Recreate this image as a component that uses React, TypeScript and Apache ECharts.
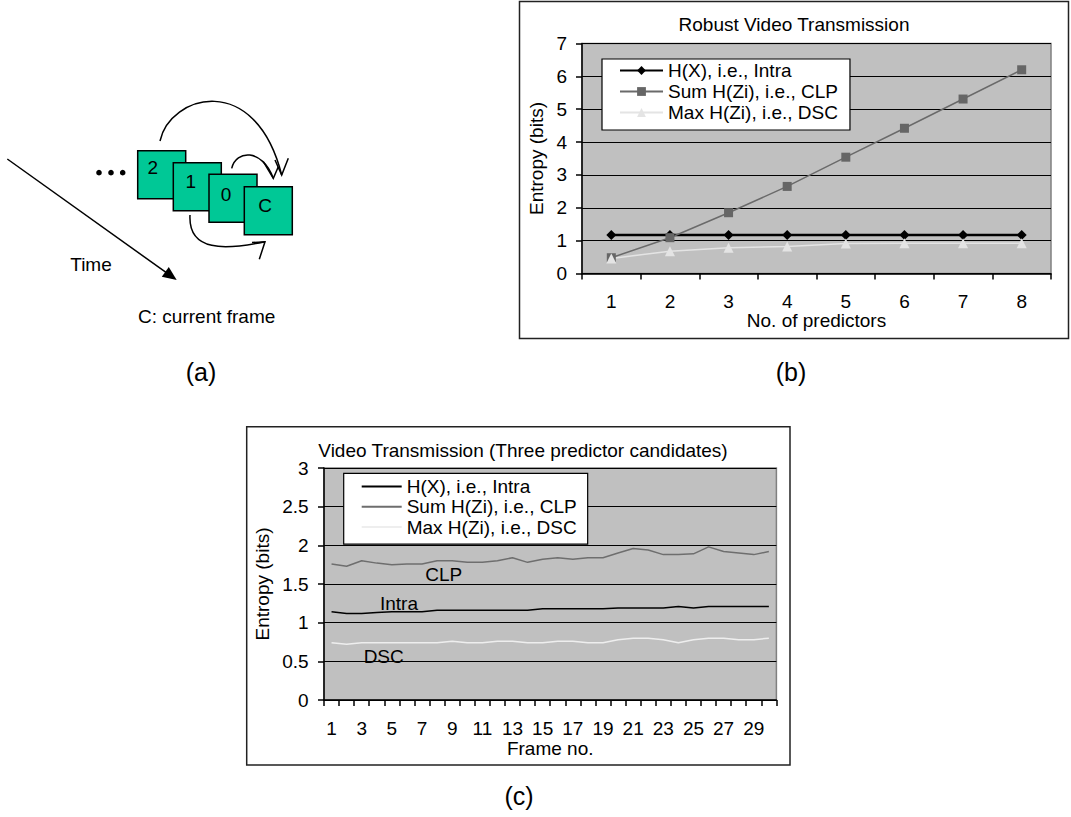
import React, { useEffect, useRef } from "react";
import * as echarts from "echarts";

const FONT = "'Liberation Sans', Arial, Helvetica, sans-serif";

// ---------- data: panel (b) ----------
const predictorsB = ["1", "2", "3", "4", "5", "6", "7", "8"];
const intraB = [1.17, 1.17, 1.17, 1.17, 1.17, 1.17, 1.17, 1.17];
const clpB = [0.48, 1.09, 1.85, 2.65, 3.54, 4.42, 5.31, 6.2];
const dscB = [0.46, 0.68, 0.78, 0.82, 0.91, 0.92, 0.92, 0.92];

// ---------- data: panel (c) ----------
const framesC = [
  "1", "2", "3", "4", "5", "6", "7", "8", "9", "10",
  "11", "12", "13", "14", "15", "16", "17", "18", "19", "20",
  "21", "22", "23", "24", "25", "26", "27", "28", "29", "30",
];
const intraC = [
  1.14, 1.12, 1.12, 1.13, 1.14, 1.14, 1.14, 1.16, 1.16, 1.16,
  1.16, 1.16, 1.16, 1.16, 1.18, 1.18, 1.18, 1.18, 1.18, 1.19,
  1.19, 1.19, 1.19, 1.21, 1.19, 1.21, 1.21, 1.21, 1.21, 1.21,
];
const clpC = [
  1.76, 1.73, 1.8, 1.77, 1.75, 1.76, 1.76, 1.8, 1.8, 1.78,
  1.78, 1.8, 1.84, 1.78, 1.82, 1.84, 1.82, 1.84, 1.84, 1.9,
  1.96, 1.94, 1.88, 1.88, 1.89, 1.98, 1.92, 1.9, 1.88, 1.92,
];
const dscC = [
  0.74, 0.72, 0.74, 0.74, 0.74, 0.74, 0.74, 0.74, 0.76, 0.74,
  0.74, 0.76, 0.76, 0.74, 0.74, 0.76, 0.76, 0.74, 0.74, 0.78,
  0.8, 0.8, 0.78, 0.74, 0.78, 0.8, 0.8, 0.78, 0.78, 0.8,
];

const seriesNames = ["H(X), i.e., Intra", "Sum H(Zi), i.e., CLP", "Max H(Zi), i.e., DSC"];
const titleB = "Robust Video Transmission";
const titleC = "Video Transmission (Three predictor candidates)";
const yNameBoth = "Entropy (bits)";
const xNameB = "No. of predictors";
const xNameC = "Frame no.";
const annotationsC = ["CLP", "Intra", "DSC"];

const txt = (text: string, x: number, y: number, size = 19) => ({
  type: "text",
  silent: true,
  style: {
    text,
    x,
    y,
    fill: "#000",
    fontSize: size,
    fontFamily: FONT,
    align: "center",
    verticalAlign: "middle",
    textAlign: "center",
    textVerticalAlign: "middle",
  },
});

const stroke = { stroke: "#000", lineWidth: 1.5, fill: "none" };

function panelAGraphics() {
  const squares: [number, number, string, number, number][] = [
    [137.7, 150.7, "2", 152.7, 167.3],
    [173.3, 162.7, "1", 190.7, 181.7],
    [209, 174.3, "0", 226, 194],
    [244.3, 186.7, "C", 265, 205],
  ];
  const els: any[] = [];
  // time arrow
  els.push({ type: "line", silent: true, shape: { x1: 7.3, y1: 159, x2: 166, y2: 272.4 }, style: { stroke: "#000", lineWidth: 1.5 } });
  els.push({ type: "polygon", silent: true, shape: { points: [[176.7, 280], [161.8, 276.8], [168.8, 267]] }, style: { fill: "#000" } });
  els.push(txt("Time", 91, 264));
  // dots
  [99, 111, 122.7].forEach((cx) =>
    els.push({ type: "circle", silent: true, shape: { cx, cy: 172.7, r: 2.8 }, style: { fill: "#000" } })
  );
  squares.forEach(([x, y, label, lx, ly]) => {
    els.push({ type: "rect", silent: true, shape: { x, y, width: 48, height: 48 }, style: { fill: "#00c896", stroke: "#000", lineWidth: 1.5 } });
    els.push(txt(label, lx, ly));
  });
  // arcs
  els.push({ type: "bezierCurve", silent: true, shape: { x1: 160, y1: 141, cpx1: 170, cpy1: 95, cpx2: 255, cpy2: 70, x2: 281.7, y2: 175 }, style: stroke });
  els.push({ type: "polyline", silent: true, shape: { points: [[275, 160], [281.7, 175], [288.3, 158.3]] }, style: stroke });
  els.push({ type: "bezierCurve", silent: true, shape: { x1: 231.7, y1: 168.3, cpx1: 236, cpy1: 150, cpx2: 262, cpy2: 148, x2: 273.3, y2: 178.3 }, style: stroke });
  els.push({ type: "polyline", silent: true, shape: { points: [[263.3, 161.7], [273.3, 178.3], [278.3, 166.7]] }, style: stroke });
  els.push({ type: "bezierCurve", silent: true, shape: { x1: 190, y1: 215, cpx1: 188, cpy1: 252, cpx2: 225, cpy2: 250, x2: 265, y2: 241.7 }, style: stroke });
  els.push({ type: "polyline", silent: true, shape: { points: [[252, 242.5], [265, 241.7], [259.3, 259.3]] }, style: stroke });
  els.push(txt("C: current frame", 206.7, 316.7));
  return els;
}

const axisText = { fontSize: 19, color: "#000", fontFamily: FONT };

function optionAB(): any {
  return {
    animation: false,
    textStyle: { fontFamily: FONT },
    title: [
      {
        text: titleB,
        left: 794,
        top: 14,
        textAlign: "center",
        padding: 0,
        textStyle: { fontSize: 19, fontWeight: "normal", color: "#000", fontFamily: FONT, lineHeight: 20 },
      },
    ],
    grid: {
      left: 582,
      top: 43.5,
      width: 469,
      height: 230,
      show: true,
      backgroundColor: "#c0c0c0",
      borderColor: "#808080",
      borderWidth: 1.5,
    },
    xAxis: {
      type: "category",
      data: predictorsB,
      boundaryGap: true,
      name: xNameB,
      nameLocation: "middle",
      nameGap: 37,
      nameTextStyle: axisText,
      axisLine: { lineStyle: { color: "#000", width: 1.5 } },
      axisTick: { show: true, length: 6, lineStyle: { color: "#000", width: 1.5 } },
      axisLabel: { ...axisText, margin: 18 },
      splitLine: { show: false },
    },
    yAxis: {
      type: "value",
      min: 0,
      max: 7,
      interval: 1,
      name: yNameBoth,
      nameLocation: "middle",
      nameGap: 36,
      nameRotate: 90,
      nameTextStyle: axisText,
      axisLine: { show: true, lineStyle: { color: "#000", width: 1.5 } },
      axisTick: { show: true, length: 6, lineStyle: { color: "#000", width: 1.5 } },
      axisLabel: { ...axisText, margin: 15 },
      splitLine: { show: true, lineStyle: { color: "#000", width: 1 } },
    },
    legend: {
      orient: "vertical",
      left: 602,
      top: 59,
      backgroundColor: "#fff",
      borderColor: "#000",
      borderWidth: 1.2,
      borderRadius: 0,
      padding: [1, 12, 7, 17],
      itemWidth: 43,
      itemHeight: 11,
      itemGap: 0,
      textStyle: { fontSize: 19, color: "#000", lineHeight: 21, fontFamily: FONT },
      data: seriesNames,
    },
    series: [
      {
        name: seriesNames[0],
        type: "line",
        data: intraB,
        symbol: "diamond",
        symbolSize: 10,
        itemStyle: { color: "#000" },
        lineStyle: { color: "#000", width: 2.5 },
      },
      {
        name: seriesNames[1],
        type: "line",
        data: clpB,
        symbol: "rect",
        symbolSize: 9,
        itemStyle: { color: "#666" },
        lineStyle: { color: "#6a6a6a", width: 1.5 },
      },
      {
        name: seriesNames[2],
        type: "line",
        data: dscB,
        symbol: "triangle",
        symbolSize: 10,
        itemStyle: { color: "#e4e4e4" },
        lineStyle: { color: "#e4e4e4", width: 1.5 },
      },
    ],
    graphic: [
      ...panelAGraphics(),
      {
        type: "rect",
        silent: true,
        z: -1,
        shape: { x: 519.5, y: 1.5, width: 549, height: 337 },
        style: { fill: "none", stroke: "#222", lineWidth: 1.5 },
      },
      txt("(a)", 201, 372, 25),
      txt("(b)", 791, 372, 25),
      txt("(c)", 519, 796, 25),
    ],
  };
}

function optionC(): any {
  return {
    animation: false,
    textStyle: { fontFamily: FONT },
    title: [
      {
        text: titleC,
        left: 523,
        top: 440.5,
        textAlign: "center",
        padding: 0,
        textStyle: { fontSize: 19, fontWeight: "normal", color: "#000", fontFamily: FONT, lineHeight: 20 },
      },
    ],
    grid: {
      left: 324,
      top: 468,
      width: 452.4,
      height: 232,
      show: true,
      backgroundColor: "#c0c0c0",
      borderColor: "#808080",
      borderWidth: 1.5,
    },
    xAxis: {
      type: "category",
      data: framesC,
      boundaryGap: true,
      name: xNameC,
      nameLocation: "middle",
      nameGap: 38.5,
      nameTextStyle: axisText,
      axisLine: { lineStyle: { color: "#000", width: 1.5 } },
      axisTick: { show: true, interval: 0, length: 6, lineStyle: { color: "#000", width: 1.5 } },
      axisLabel: { ...axisText, margin: 18.5, interval: 1 },
      splitLine: { show: false },
    },
    yAxis: {
      type: "value",
      min: 0,
      max: 3,
      interval: 0.5,
      name: yNameBoth,
      nameLocation: "middle",
      nameGap: 52.5,
      nameRotate: 90,
      nameTextStyle: axisText,
      axisLine: { show: true, lineStyle: { color: "#000", width: 1.5 } },
      axisTick: { show: true, length: 6, lineStyle: { color: "#000", width: 1.5 } },
      axisLabel: { ...axisText, margin: 15.4 },
      splitLine: { show: true, lineStyle: { color: "#000", width: 1 } },
    },
    legend: {
      orient: "vertical",
      left: 343.7,
      top: 473.3,
      backgroundColor: "#fff",
      borderColor: "#000",
      borderWidth: 1.2,
      borderRadius: 0,
      padding: [3, 11, 7, 17],
      itemWidth: 40,
      itemHeight: 11,
      itemGap: 0,
      itemStyle: { opacity: 0 },
      textStyle: { fontSize: 19, color: "#000", lineHeight: 20.3, fontFamily: FONT },
      data: seriesNames,
    },
    series: [
      {
        name: seriesNames[0],
        type: "line",
        data: intraC,
        symbol: "none",
        itemStyle: { color: "#000" },
        lineStyle: { color: "#000", width: 1.5 },
      },
      {
        name: seriesNames[1],
        type: "line",
        data: clpC,
        symbol: "none",
        itemStyle: { color: "#6e6e6e" },
        lineStyle: { color: "#6e6e6e", width: 1.5 },
      },
      {
        name: seriesNames[2],
        type: "line",
        data: dscC,
        symbol: "none",
        itemStyle: { color: "#eeeeee" },
        lineStyle: { color: "#eeeeee", width: 1.5 },
      },
    ],
    graphic: [
      {
        type: "rect",
        silent: true,
        z: -1,
        shape: { x: 246.7, y: 426.7, width: 543.3, height: 338.3 },
        style: { fill: "none", stroke: "#222", lineWidth: 1.5 },
      },
      txt(annotationsC[0], 443.8, 574),
      txt(annotationsC[1], 399, 603.3),
      txt(annotationsC[2], 383.7, 656),
    ],
  };
}

export default function App() {
  const refAB = useRef<HTMLDivElement>(null);
  const refC = useRef<HTMLDivElement>(null);
  useEffect(() => {
    const c1 = echarts.init(refAB.current!, null, { renderer: "svg" });
    const c2 = echarts.init(refC.current!, null, { renderer: "svg" });
    c1.setOption(optionAB());
    c2.setOption(optionC());
    return () => {
      c1.dispose();
      c2.dispose();
    };
  }, []);
  return (
    <div style={{ position: "fixed", left: 0, top: 0, width: 1071, height: 817, background: "#fff" }}>
      <div ref={refAB} style={{ position: "absolute", left: 0, top: 0, width: 1071, height: 817 }} />
      <div ref={refC} style={{ position: "absolute", left: 0, top: 0, width: 1071, height: 817 }} />
    </div>
  );
}
